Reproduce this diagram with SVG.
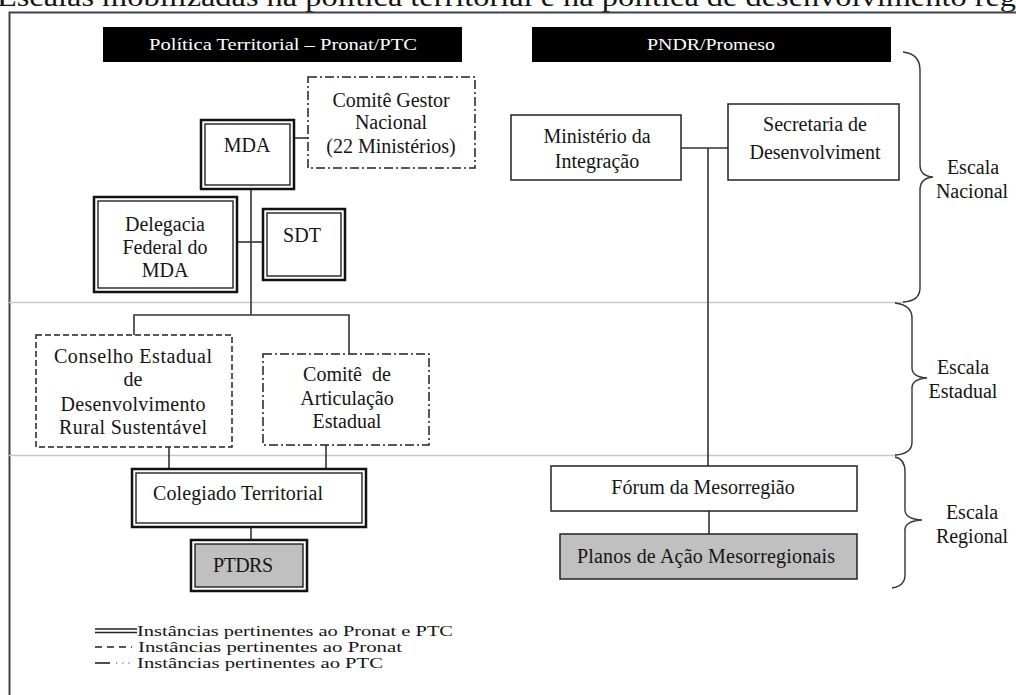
<svg xmlns="http://www.w3.org/2000/svg" width="1016" height="695" viewBox="0 0 1016 695">
<style>
text{font-family:"Liberation Serif","Times New Roman",serif;fill:#151515}
.t{font-size:20px;text-anchor:middle}
.h{font-size:17px;fill:#fff;text-anchor:middle}
.lg{font-size:15px}
.box{fill:#fff;stroke:#222;stroke-width:1.5}
.outer{fill:#fff;stroke:#111;stroke-width:2.5}
.inner{fill:none;stroke:#111;stroke-width:1.3}
.dash{fill:#fff;stroke:#222;stroke-width:1.5;stroke-dasharray:6 3}
.dd{fill:#fff;stroke:#222;stroke-width:1.5;stroke-dasharray:9 3 2 3}
.con{fill:none;stroke:#333;stroke-width:1.6}
.sep{stroke:#c8c8c8;stroke-width:1.6}
.brace{fill:none;stroke:#333;stroke-width:1.4}
</style>
<rect width="1016" height="695" fill="#fff"/>
<text x="-3" y="6" font-size="27" textLength="1019" lengthAdjust="spacingAndGlyphs">Escalas mobilizadas na política territorial e na política de desenvolvimento reg</text>
<path d="M9.5 695 V12.5 H1016" fill="none" stroke="#3a4250" stroke-width="2"/>
<line class="sep" x1="9" y1="302.5" x2="905" y2="302.5"/>
<line class="sep" x1="9" y1="455.5" x2="897" y2="455.5"/>

<g id="header-left"><rect x="103" y="27" width="359" height="35" fill="#000"/><text class="h" x="283" y="50" textLength="268" lengthAdjust="spacingAndGlyphs">Política Territorial – Pronat/PTC</text></g>
<g id="header-right"><rect x="532" y="27" width="359" height="35" fill="#000"/><text class="h" x="711" y="50" textLength="128" lengthAdjust="spacingAndGlyphs">PNDR/Promeso</text></g>

<g id="connectors">
<line class="con" x1="294" y1="138" x2="308" y2="138"/>
<line class="con" x1="251" y1="189" x2="251" y2="315"/>
<line class="con" x1="237" y1="242" x2="263" y2="242"/>
<path class="con" d="M134 335 V315 H349 V354"/>
<line class="con" x1="169" y1="447" x2="169" y2="469"/>
<line class="con" x1="326" y1="445" x2="326" y2="469"/>
<line class="con" x1="251" y1="527" x2="251" y2="540"/>
<line class="con" x1="681" y1="148" x2="728" y2="148"/>
<line class="con" x1="708" y1="148" x2="708" y2="466"/>
<line class="con" x1="709" y1="511" x2="709" y2="534"/>
</g>

<g id="mda"><rect class="outer" x="201" y="120" width="93" height="69"/><rect class="inner" x="205" y="124" width="85" height="61"/><text class="t" x="247" y="152">MDA</text></g>
<g id="comite-gestor"><rect class="dd" x="308" y="77" width="167" height="91"/><text class="t" x="391" y="107">Comitê Gestor</text><text class="t" x="391" y="129">Nacional</text><text class="t" x="391" y="153">(22 Ministérios)</text></g>
<g id="delegacia"><rect class="outer" x="94" y="197" width="143" height="95"/><rect class="inner" x="98" y="201" width="135" height="87"/><text class="t" x="165" y="231">Delegacia</text><text class="t" x="165" y="254">Federal do</text><text class="t" x="165" y="277">MDA</text></g>
<g id="sdt"><rect class="outer" x="263" y="209" width="82" height="71"/><rect class="inner" x="267" y="213" width="74" height="63"/><text class="t" x="302" y="242">SDT</text></g>
<g id="conselho"><rect class="dash" x="36" y="335" width="196" height="112"/><text class="t" x="133" y="363" textLength="158" lengthAdjust="spacing">Conselho Estadual</text><text class="t" x="133" y="386">de</text><text class="t" x="133" y="411" textLength="145" lengthAdjust="spacing">Desenvolvimento</text><text class="t" x="133" y="434" textLength="148" lengthAdjust="spacing">Rural Sustentável</text></g>
<g id="comite-articulacao"><rect class="dd" x="263" y="354" width="166" height="91"/><text class="t" x="347" y="381" xml:space="preserve">Comitê  de</text><text class="t" x="347" y="405">Articulação</text><text class="t" x="347" y="428">Estadual</text></g>
<g id="colegiado"><rect class="outer" x="132" y="469" width="234" height="58"/><rect class="inner" x="136" y="473" width="226" height="50"/><text x="153" y="500" font-size="20" textLength="170" lengthAdjust="spacing">Colegiado Territorial</text></g>
<g id="ptdrs"><rect class="outer" x="191" y="540" width="116" height="51"/><rect x="195" y="544" width="108" height="43" fill="#c0c0c0" stroke="#111" stroke-width="1.3"/><text x="213" y="572" font-size="20" textLength="60" lengthAdjust="spacing">PTDRS</text></g>

<g id="ministerio"><rect class="box" x="511" y="115" width="170" height="65"/><text class="t" x="597" y="143">Ministério da</text><text class="t" x="597" y="168">Integração</text></g>
<g id="secretaria"><rect class="box" x="728" y="104" width="171" height="76"/><text class="t" x="815" y="131">Secretaria de</text><text class="t" x="815" y="159">Desenvolviment</text></g>
<g id="forum"><rect class="box" x="551" y="466" width="306" height="45"/><text class="t" x="703" y="494">Fórum da Mesorregião</text></g>
<g id="planos"><rect x="560" y="534" width="297" height="45" fill="#c0c0c0" stroke="#222" stroke-width="1.5"/><text class="t" x="706" y="563" textLength="258" lengthAdjust="spacing">Planos de Ação Mesorregionais</text></g>

<g id="escala-nacional"><path class="brace" d="M903 52 Q920 54 920 70 V165 Q920 176 933 177 Q920 178 920 190 V288 Q920 301 903 302"/><text class="t" x="973" y="174">Escala</text><text class="t" x="972" y="198">Nacional</text></g>
<g id="escala-estadual"><path class="brace" d="M895 303 Q912 305 912 318 V368 Q912 377 927 378 Q912 379 912 388 V442 Q912 454 895 455"/><text class="t" x="963" y="374">Escala</text><text class="t" x="963" y="398">Estadual</text></g>
<g id="escala-regional"><path class="brace" d="M895 457 Q905 459 905 472 V510 Q905 519 922 520 Q905 521 905 530 V575 Q905 586 892 588"/><text class="t" x="972" y="519">Escala</text><text class="t" x="972" y="543">Regional</text></g>

<g id="legend">
<line x1="95" y1="629" x2="137" y2="629" stroke="#222" stroke-width="1.3"/>
<line x1="95" y1="632.5" x2="137" y2="632.5" stroke="#222" stroke-width="1.3"/>
<line x1="95" y1="647" x2="132" y2="647" stroke="#222" stroke-width="1.5" stroke-dasharray="7 5"/>
<line x1="95" y1="663" x2="110" y2="663" stroke="#222" stroke-width="1.6"/>
<line x1="116" y1="663" x2="134" y2="663" stroke="#444" stroke-width="1.2" stroke-dasharray="1.2 5"/>
<text class="lg" x="137" y="636" textLength="316" lengthAdjust="spacingAndGlyphs">Instâncias pertinentes ao Pronat e PTC</text>
<text class="lg" x="138" y="652" textLength="264" lengthAdjust="spacingAndGlyphs">Instâncias pertinentes ao Pronat</text>
<text class="lg" x="137" y="668" textLength="246" lengthAdjust="spacingAndGlyphs">Instâncias pertinentes ao PTC</text>
</g>
</svg>
